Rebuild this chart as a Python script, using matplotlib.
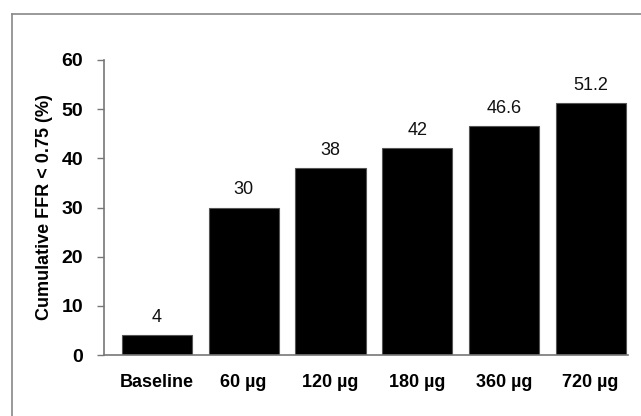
import matplotlib
matplotlib.use("Agg")
import matplotlib.pyplot as plt
from matplotlib.lines import Line2D

categories = ["Baseline", "60 µg", "120 µg", "180 µg", "360 µg", "720 µg"]
values = [4, 30, 38, 42, 46.6, 51.2]
value_labels = ["4", "30", "38", "42", "46.6", "51.2"]
yticks = [0, 10, 20, 30, 40, 50, 60]

plt.rcParams['font.family'] = ['Liberation Sans', 'DejaVu Sans']

fig = plt.figure(figsize=(6.41, 4.16), dpi=100)
ax = fig.add_axes([0.1622, 0.1466, 0.8175, 0.7092])

x = list(range(len(categories)))
ax.bar(x, values, width=0.81, color='black', edgecolor='#555555', linewidth=0.8)
for xi, v, lab in zip(x, values, value_labels):
    ax.text(xi, v + 1.9, lab, ha='center', va='bottom', fontsize=13, color='#111111')

ax.set_xlim(-0.61, 5.43)
ax.set_ylim(0, 60)
ax.set_yticks(yticks)
ax.set_yticklabels([str(t) for t in yticks], fontsize=14, fontweight='bold')
ax.set_xticks(x)
ax.set_xticklabels(categories, fontsize=13, fontweight='bold')
ax.tick_params(axis='x', length=0, pad=14)
ax.tick_params(axis='y', length=5, width=1, color='#777777', direction='out', pad=10)
for s in ['top', 'right']:
    ax.spines[s].set_visible(False)
for s in ['left', 'bottom']:
    ax.spines[s].set_color('#777777')
    ax.spines[s].set_linewidth(1.2)
ax.set_ylabel("Cumulative FFR < 0.75 (%)", fontsize=13, fontweight='bold', labelpad=6)

# outer frame (top and left)
fig.add_artist(Line2D([12/641, 12/641], [0, 1 - 14/416], transform=fig.transFigure, color='#888888', lw=1.2))
fig.add_artist(Line2D([12/641, 1], [1 - 14/416, 1 - 14/416], transform=fig.transFigure, color='#888888', lw=1.2))

fig.savefig("out.png", dpi=100)
